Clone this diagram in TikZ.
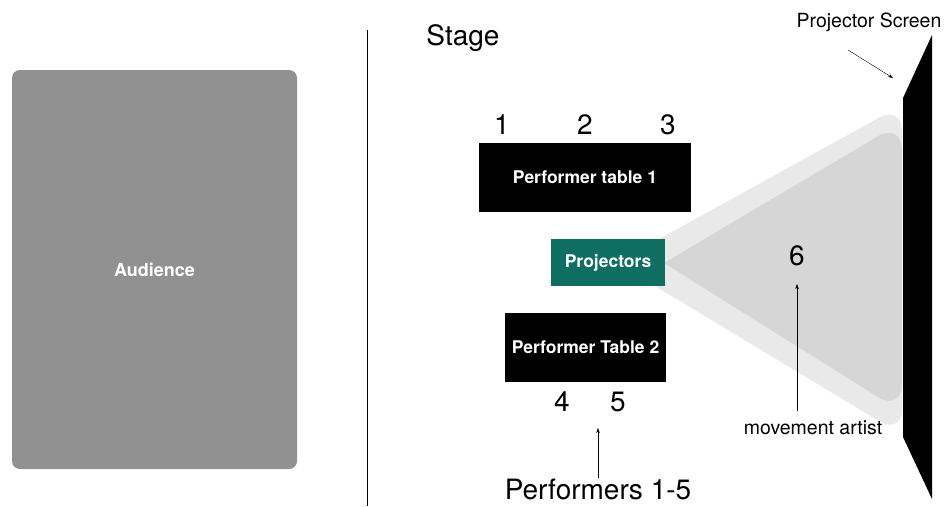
\documentclass[tikz,border=0pt]{standalone}
\usepackage{fontspec}
\setmainfont{TeX Gyre Heros}
\usepackage{tikz}
\usetikzlibrary{arrows.meta, positioning}

\definecolor{audiencegray}{HTML}{919191}
\definecolor{projteal}{HTML}{0D6E61}
\definecolor{conelight}{HTML}{E9E9E9}
\definecolor{conedark}{HTML}{D6D6D6}

\begin{document}
\begin{tikzpicture}[
  x=1pt, y=-1pt,
  block/.style = {rectangle, fill=black, text=white, inner sep=0pt, font=\fontsize{17.5}{21}\selectfont\bfseries},
  seat/.style = {font=\fontsize{28}{32}\selectfont},
  label/.style = {font=\fontsize{19.5}{22}\selectfont},
  pointer/.style = {thin, -{Stealth[length=5pt, width=3.5pt]}},
  every node/.style = {inner sep=0pt}
]

% Frame
\useasboundingbox (0,0) rectangle (945,506);

% Audience area and stage edge
\node[rectangle, rounded corners=8pt, fill=audiencegray, minimum width=285pt, minimum height=399pt,
      text=white, font=\fontsize{18}{21}\selectfont\bfseries] (audience) at (154.5,269.5) {Audience};
\coordinate (edgetop) at (367,30);
\coordinate (edgebot) at (367,506);
\draw[thin] (edgetop) -- (edgebot);
\node[font=\fontsize{28}{32}\selectfont] (stage) at (463,38) {Stage};

% Projection cone
\fill[conelight] (650,283) -- (650,244) [rounded corners=26pt] -- (902,105) -- (902,435) [sharp corners] -- (650,283) -- cycle;
\fill[conedark] (664,263) [rounded corners=28pt] -- (902,122) -- (902,412) [sharp corners] -- (664,263) -- cycle;

% Projector screen
\fill[black] (903,98) -- (932,35) -- (932,499) -- (903,437) -- cycle;
\node[label] (screen) at (869,22) {Projector Screen};
\coordinate (screentail) at (848,50);
\coordinate (screentip) at (893,78);
\draw[pointer] (screentail) -- (screentip);

% Tables and projectors
\node[block, minimum width=212pt, minimum height=69pt] (table1) at (585,177.5) {Performer table 1};
\node[block, fill=projteal, minimum width=114pt, minimum height=47pt] (proj) at (608,262.5) {Projectors};
\node[block, minimum width=161pt, minimum height=69pt] (table2) at (585.5,347.5) {Performer Table 2};

% Performer positions
\node[seat] (p1) at (502,125) {1};
\node[seat] (p2) at (585,125) {2};
\node[seat] (p3) at (668,125) {3};
\node[seat] (p4) at (562,402) {4};
\node[seat] (p5) at (618,402) {5};
\node[seat] (p6) at (797,256) {6};

% Captions
\node[seat, anchor=base] (performers) at (598,499) {Performers 1-5};
\coordinate (perftip) at (598,428);
\draw[pointer] (performers.north) -- (perftip);
\node[label] (artist) at (813,428) {movement artist};
\coordinate (artisttail) at (797,411);
\coordinate (artisttip) at (797,284);
\draw[pointer] (artisttail) -- (artisttip);

\end{tikzpicture}
\end{document}
